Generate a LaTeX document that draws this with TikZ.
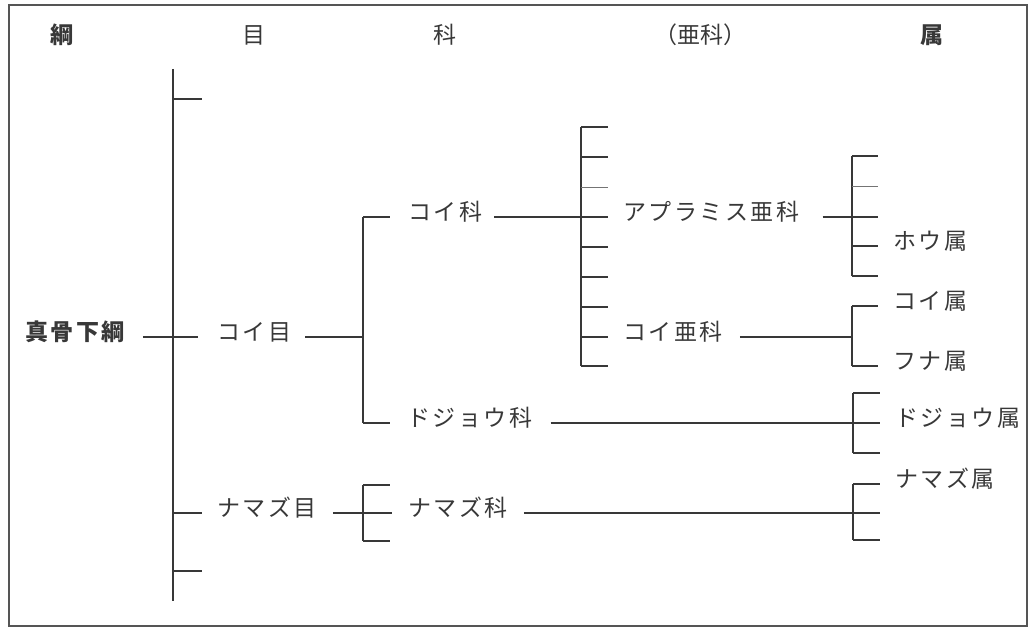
\documentclass[tikz,border=0pt]{standalone}
\usepackage{fontspec}
\newfontfamily\jp{Noto Sans CJK JP}[LetterSpace=11]
\newfontfamily\jph{Noto Sans CJK JP}
\definecolor{ink}{HTML}{383838}
\definecolor{frame}{HTML}{555555}
\begin{document}
\begin{tikzpicture}[x=1pt,y=-1pt,
  lbl/.style={anchor=west,inner sep=0pt,text height=0.88em,text depth=0.12em,font=\jp\fontsize{23}{23}\selectfont,text=ink},
  bl/.style={lbl,font=\jp\bfseries\fontsize{23}{23}\selectfont},
  hd/.style={anchor=center,inner sep=0pt,text height=0.88em,text depth=0.12em,font=\jph\fontsize{23}{23}\selectfont,text=ink},
  hdb/.style={hd,font=\jph\bfseries\fontsize{23}{23}\selectfont},
  ln/.style={draw=ink,line width=1.3pt},
  thin/.style={draw=ink!70,line width=0.8pt}]
\useasboundingbox (0,0) rectangle (1029,628);
\draw[frame,line width=1.2pt] (9,5) rectangle (1027,626);
% headers
\node[hdb] (hA) at (62,40) {綱};
\node[hd]  (hB) at (254,40) {目};
\node[hd]  (hC) at (445,40) {科};
\node[hd]  (hD) at (700,40) {（亜科）};
\node[hdb] (hE) at (932,40) {属};
% labels
\node[bl]  (root)  at (25,337)  {真骨下綱};
\node[lbl] (koiO)  at (217,337) {コイ目};
\node[lbl] (namO)  at (217,513) {ナマズ目};
\node[lbl] (koiF)  at (408,217) {コイ科};
\node[lbl] (dojF)  at (407,423) {ドジョウ科};
\node[lbl] (namF)  at (408,513) {ナマズ科};
\node[lbl] (abrS)  at (623,217) {アプラミス亜科};
\node[lbl] (koiS)  at (623,337) {コイ亜科};
\node[lbl] (houG)  at (893,246) {ホウ属};
\node[lbl] (koiG)  at (893,306) {コイ属};
\node[lbl] (funG)  at (893,366) {フナ属};
\node[lbl] (dojG)  at (895,423) {ドジョウ属};
\node[lbl] (namG)  at (895,484) {ナマズ属};
% bracket end points
\coordinate (cT) at (173,69);   \coordinate (cB) at (173,601);
\coordinate (c1) at (202,99);   \coordinate (c2) at (202,571);
\coordinate (oJ) at (363,337);
\coordinate (oT) at (363,217);  \coordinate (oB) at (363,423);
\coordinate (sT) at (581,127);  \coordinate (sB) at (581,366);
\coordinate (sE) at (608,217);
\coordinate (aT) at (852,156);  \coordinate (aB) at (852,276);
\coordinate (aE) at (878,217);
\coordinate (kJ) at (852,337);
\coordinate (kT) at (852,306);  \coordinate (kB) at (852,366);
\coordinate (dT) at (853,393);  \coordinate (dB) at (853,453);
\coordinate (nT) at (363,485);  \coordinate (nB) at (363,541);
\coordinate (nE) at (392,513);
\coordinate (gT) at (853,484);  \coordinate (gB) at (853,540);
\coordinate (gE) at (880,513);
% class bracket
\draw[ln] (cT) -- (cB);
\draw[ln] (cT |- c1) -- (c1);
\draw[ln] (cT |- c2) -- (c2);
\draw[ln] (cT |- namO) -- ([xshift=-15pt]namO.west);
\draw[ln] ([xshift=18pt]root.east) -- ([xshift=-19pt]koiO.west);
% order Cypriniformes
\draw[ln] ([xshift=14pt]koiO.east) -- (oJ);
\draw[ln] (oT) -- (oB);
\draw[ln] (oT) -- ([xshift=-18pt]koiF.west);
\draw[ln] (oB) -- ([xshift=-17pt]dojF.west);
% Cyprinidae -> subfamilies
\draw[ln] ([xshift=12pt]koiF.east) -- (sE);
\draw[ln] (sT) -- (sB);
\foreach \yy in {127,157,247,277,307,337,366} \draw[ln] (581,\yy) -- (608,\yy);
\draw[thin] (581,187) -- (608,187);
% Abramis subfamily
\draw[ln] ([xshift=23pt]abrS.east) -- (aE);
\draw[ln] (aT) -- (aB);
\draw[ln] (aT) -- (878,156);
\draw[ln] (852,246) -- ([xshift=-15pt]houG.west);
\draw[ln] (aB) -- (878,276);
\draw[thin] (852,186) -- (878,186);
% Cyprininae
\draw[ln] ([xshift=17pt]koiS.east) -- (kJ);
\draw[ln] (kT) -- (kB);
\draw[ln] (kT) -- ([xshift=-15pt]koiG.west);
\draw[ln] (kB) -- ([xshift=-15pt]funG.west);
% Cobitidae
\draw[ln] ([xshift=18pt]dojF.east) -- ([xshift=-15pt]dojG.west);
\draw[ln] (dT) -- (dB);
\draw[ln] (dT) -- (880,393);
\draw[ln] (dB) -- (880,453);
% Siluriformes
\draw[ln] ([xshift=16pt]namO.east) -- (nE);
\draw[ln] (nT) -- (nB);
\draw[ln] (nT) -- (390,485);
\draw[ln] (nB) -- (390,541);
\draw[ln] ([xshift=16pt]namF.east) -- (gE);
\draw[ln] (gT) -- (gB);
\draw[ln] (gT) -- ([xshift=-15pt]namG.west);
\draw[ln] (gB) -- (880,540);
\end{tikzpicture}
\end{document}
